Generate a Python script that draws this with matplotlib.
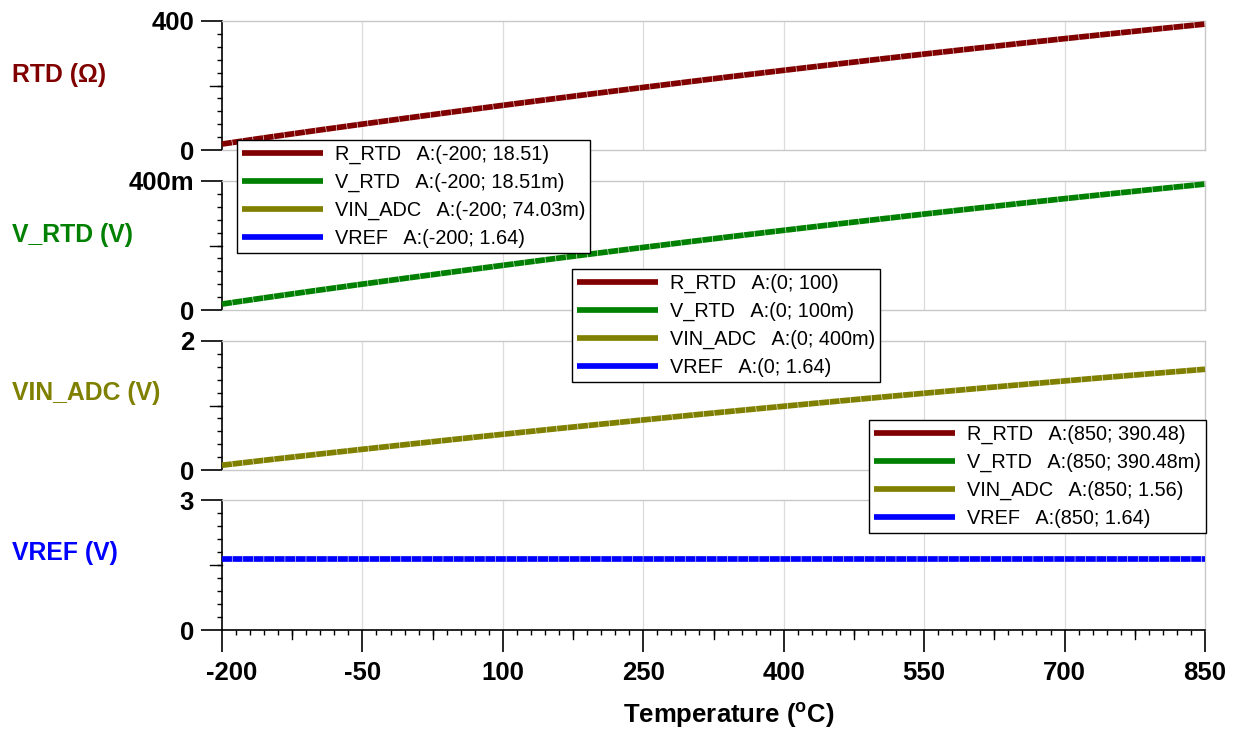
import numpy as np
import matplotlib.pyplot as plt
import matplotlib.transforms as mtransforms
from matplotlib.lines import Line2D

plt.rcParams['font.family'] = ['Liberation Sans', 'DejaVu Sans']

# temperature sweep (degC) and the four traces
temp = [-200, -150, -100, -50, 0, 50, 100, 150, 200, 250, 300, 350, 400,
        450, 500, 550, 600, 650, 700, 750, 800, 850]
r_rtd = [18.51, 39.72, 60.26, 80.31, 100.0, 119.40, 138.51, 157.33, 175.86,
         194.10, 212.05, 229.72, 247.09, 264.18, 280.98, 297.49, 313.71,
         329.64, 345.28, 360.64, 375.70, 390.48]
v_rtd = [0.01851, 0.03972, 0.06026, 0.08031, 0.1000, 0.1194, 0.13851, 0.15733,
         0.17586, 0.19410, 0.21205, 0.22972, 0.24709, 0.26418, 0.28098,
         0.29749, 0.31371, 0.32964, 0.34528, 0.36064, 0.37570, 0.39048]
vin_adc = [0.07403, 0.1589, 0.2410, 0.3212, 0.4000, 0.4776, 0.5540, 0.6293,
           0.7034, 0.7764, 0.8482, 0.9189, 0.9884, 1.0567, 1.1239, 1.1900,
           1.2548, 1.3186, 1.3811, 1.4426, 1.5028, 1.5619]
vref = [1.64] * len(temp)

names = ['R_RTD', 'V_RTD', 'VIN_ADC', 'VREF']
ylabels = ['RTD (\u03a9)', 'V_RTD (V)', 'VIN_ADC (V)', 'VREF (V)']
colors = ['#800000', '#008000', '#808000', '#0000ff']
ymax = [400, 0.4, 2, 3]
ytop_labels = ['400', '400m', '2', '3']

# cursor readouts shown in the three legends
cursor_x = ['-200', '0', '850']
cursor_vals = [['18.51', '18.51m', '74.03m', '1.64'],
               ['100', '100m', '400m', '1.64'],
               ['390.48', '390.48m', '1.56', '1.64']]
legend_pos = [(237, 140), (572, 269), (869, 420)]

W, H = 1243, 732
fig = plt.figure(figsize=(W / 100, H / 100), dpi=100)

series = [r_rtd, v_rtd, vin_adc, vref]
left, right = 222, 1205
tops = [21, 181, 341, 500]
bots = [150, 310, 470, 630]
ylab_y = [75, 235, 393, 553]

grid_c = '#dcdcdc'
fs_bold = 18.5
lw_trace = 4.1

axes = []
for i in range(4):
    ax = fig.add_axes([left / W, 1 - bots[i] / H, (right - left) / W, (bots[i] - tops[i]) / H])
    axes.append(ax)
    ax.plot(temp, series[i], color=colors[i], lw=lw_trace, solid_capstyle='butt',
            linestyle=(0, (1.75, 0.1)), dash_capstyle='butt', clip_on=False, zorder=3)
    ax.set_xlim(-200, 850)
    ax.set_ylim(0, ymax[i])

    for s in ['top', 'right', 'bottom']:
        ax.spines[s].set_color('#c8c8c8')
        ax.spines[s].set_linewidth(1.0)
    ax.spines['left'].set_color('black')
    ax.spines['left'].set_linewidth(1.2)
    if i == 3:
        ax.spines['bottom'].set_color('black')
        ax.spines['bottom'].set_linewidth(1.2)

    # vertical grid at the major temperature ticks
    for xv in np.arange(-50, 850, 150):
        ax.axvline(xv, color=grid_c, lw=0.9, zorder=1)

    # y ticks: long at the ends, medium in the middle, short minors
    ax.set_yticks([0, ymax[i]])
    ax.set_yticklabels(['0', ytop_labels[i]], fontsize=fs_bold, fontweight='bold')
    ax.set_yticks(np.linspace(0, ymax[i], 11), minor=True)
    ax.tick_params(axis='y', which='major', length=15, width=1.2, direction='out', pad=5)
    ax.tick_params(axis='y', which='minor', length=3.5, width=1.0, direction='out')
    ax.plot([-12 / (right - left), 0], [ymax[i] / 2] * 2, color='black', lw=1.0,
            transform=ax.get_yaxis_transform(), clip_on=False)

    if i < 3:
        ax.tick_params(axis='x', which='both', bottom=False, labelbottom=False)
    else:
        ax.set_xticks(np.arange(-200, 851, 150))
        ax.set_xticklabels([str(v) for v in range(-200, 851, 150)],
                           fontsize=fs_bold, fontweight='bold')
        ax.set_xticks(np.arange(-200, 851, 15), minor=True)
        ax.tick_params(axis='x', which='major', length=16, width=1.2, direction='out', pad=6)
        ax.tick_params(axis='x', which='minor', length=3.5, width=1.0, direction='out')
        for xv in np.arange(-125, 850, 150):
            ax.plot([xv, xv], [-9 / (bots[i] - tops[i]), 0], color='black', lw=1.0,
                    transform=ax.get_xaxis_transform(), clip_on=False)
        # first label sits a little right of its tick in the original
        first = ax.get_xticklabels()[0]
        first.set_transform(first.get_transform() +
                            mtransforms.ScaledTranslation(10 / 100, 0, fig.dpi_scale_trans))

    fig.text(12 / W, 1 - ylab_y[i] / H, ylabels[i], color=colors[i],
             fontsize=17.8, fontweight='bold', ha='left', va='center')

fig.text(729 / W, 1 - 716 / H, 'Temperature ($\\mathregular{^{o}}$C)',
         fontsize=fs_bold, fontweight='bold', ha='center', va='center')

handles = [Line2D([], [], color=c, lw=lw_trace, solid_capstyle='butt') for c in colors]
for k in range(3):
    labels = [f'{names[j]}   A:({cursor_x[k]}; {cursor_vals[k][j]})' for j in range(4)]
    leg = fig.legend(handles, labels, loc='upper left',
                     bbox_to_anchor=(legend_pos[k][0] / W, 1 - legend_pos[k][1] / H),
                     bbox_transform=fig.transFigure, borderaxespad=0,
                     fontsize=14.3, frameon=True, fancybox=False, shadow=False,
                     handlelength=4.1, handletextpad=0.6, labelspacing=0.44,
                     borderpad=0.24, framealpha=1)
    leg.get_frame().set_edgecolor('black')
    leg.get_frame().set_linewidth(1.0)

fig.savefig('out.png', dpi=100)
